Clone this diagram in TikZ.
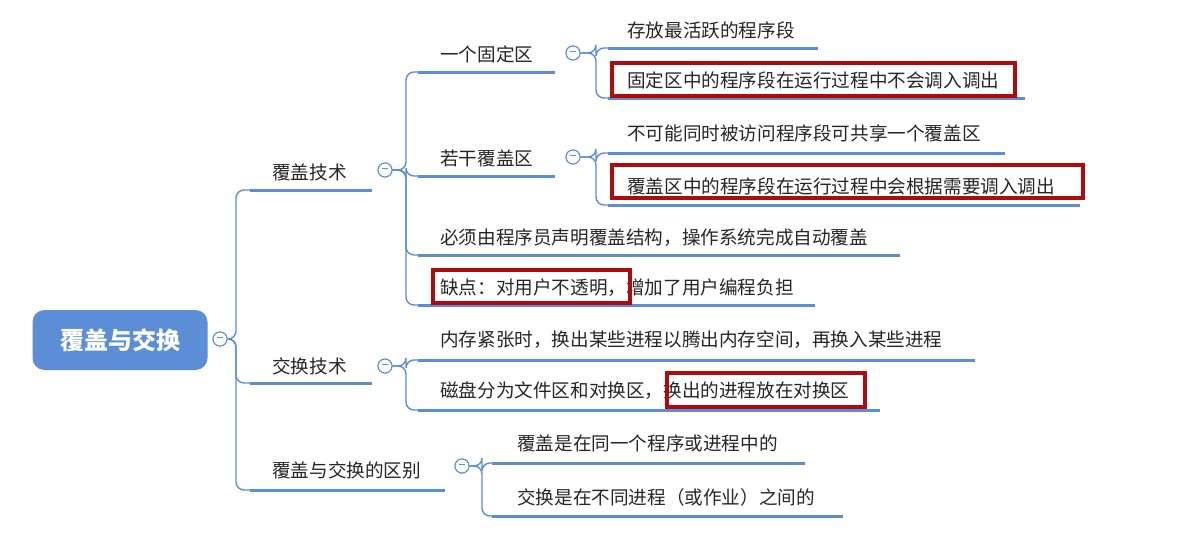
\documentclass[tikz,border=0pt]{standalone}
\usepackage{fontspec}
\setmainfont{Noto Sans CJK SC}
\newcommand\cminus{\textcolor{lineblue}{\rule[2.6pt]{6pt}{1.1pt}}}
\begin{document}
\begin{tikzpicture}[x=1pt,y=-1pt,
  conn/.style={draw=lineblue,line width=1.4pt,rounded corners=8pt},
  uline/.style={draw=lineblue,line width=3pt},
  txt/.style={anchor=west,inner sep=0pt,font=\fontsize{18.6}{22}\selectfont,text=black!85},
  redbox/.style={draw=boxred,line width=3.2pt},
  collapse/.style={circle,draw=lineblue,fill=white,line width=1pt,minimum size=14pt,inner sep=0pt}]
\definecolor{lineblue}{HTML}{5B8ED6}
\definecolor{boxred}{HTML}{B00A0A}
\useasboundingbox[fill=white] (0,0) rectangle (1186,544);
% root
\node[fill=lineblue,rounded corners=12pt,minimum width=175pt,minimum height=60pt,text=white,
  font=\fontsize{24}{28}\selectfont\bfseries] (root) at (120,340) {覆盖与交换};
\node[collapse] (c0) at (220,339) {\cminus};
% level 1
\node[txt] (t1) at (272,172) {覆盖技术};
\node[txt] (t2) at (272,366) {交换技术};
\node[txt] (t3) at (272,470) {覆盖与交换的区别};
\coordinate (u1s) at (250,190); \coordinate (u1e) at (372,190);
\coordinate (u2s) at (250,383); \coordinate (u2e) at (372,383);
\coordinate (u3s) at (250,490); \coordinate (u3e) at (445,490);
\node[collapse] (c1) at (385,170) {\cminus};
\node[collapse] (c2) at (385,366) {\cminus};
\node[collapse] (c3) at (462,466) {\cminus};
% level 2
\node[txt] (ta) at (440,54) {一个固定区};
\node[txt] (tb) at (440,158) {若干覆盖区};
\node[txt] (tc) at (440,238) {必须由程序员声明覆盖结构，操作系统完成自动覆盖};
\node[txt] (td) at (440,288) {缺点：对用户不透明，增加了用户编程负担};
\coordinate (uas) at (418,72); \coordinate (uae) at (555,72);
\coordinate (ubs) at (418,176); \coordinate (ube) at (555,176);
\coordinate (ucs) at (418,255); \coordinate (uce) at (900,255);
\coordinate (uds) at (418,305); \coordinate (ude) at (815,305);
\node[collapse] (ca) at (573,53) {\cminus};
\node[collapse] (cb) at (573,157) {\cminus};
\node[txt] (te1) at (440,340) {内存紧张时，换出某些进程以腾出内存空间，再换入某些进程};
\node[txt] (te2) at (440,391) {磁盘分为文件区和对换区，换出的进程放在对换区};
\coordinate (ue1s) at (418,360); \coordinate (ue1e) at (975,360);
\coordinate (ue2s) at (418,410); \coordinate (ue2e) at (880,410);
\node[txt] (tf1) at (517,443) {覆盖是在同一个程序或进程中的};
\node[txt] (tf2) at (517,497) {交换是在不同进程（或作业）之间的};
\coordinate (uf1s) at (492,463); \coordinate (uf1e) at (805,463);
\coordinate (uf2s) at (492,516); \coordinate (uf2e) at (843,516);
% level 3
\node[txt] (ta1) at (627,30) {存放最活跃的程序段};
\node[txt] (ta2) at (627,80) {固定区中的程序段在运行过程中不会调入调出};
\node[txt] (tb1) at (627,133) {不可能同时被访问程序段可共享一个覆盖区};
\node[txt] (tb2) at (627,186) {覆盖区中的程序段在运行过程中会根据需要调入调出};
\coordinate (ua1s) at (608,48); \coordinate (ua1e) at (818,48);
\coordinate (ua2s) at (608,98); \coordinate (ua2e) at (1025,98);
\coordinate (ub1s) at (608,153); \coordinate (ub1e) at (1005,153);
\coordinate (ub2s) at (608,205); \coordinate (ub2e) at (1080,205);
% underlines
\foreach \u in {u1,u2,u3,ua,ub,uc,ud,ue1,ue2,uf1,uf2,ua1,ua2,ub1,ub2}
  \draw[uline] (\u s) -- (\u e);
% connectors
\draw[conn] (c0.east) -- (236,339) |- (u1s);
\draw[conn] (c0.east) -- (236,339) |- (u2s);
\draw[conn] (c0.east) -- (236,339) |- (u3s);
\foreach \u in {ua,ub,uc,ud} \draw[conn] (c1.east) -- (406,170) |- (\u s);
\foreach \u in {ue1,ue2} \draw[conn] (c2.east) -- (406,366) |- (\u s);
\foreach \u in {uf1,uf2} \draw[conn] (c3.east) -- (482,466) |- (\u s);
\foreach \u in {ua1,ua2} \draw[conn] (ca.east) -- (596,53) |- (\u s);
\foreach \u in {ub1,ub2} \draw[conn] (cb.east) -- (596,157) |- (\u s);
\foreach \c in {c0,c1,c2,c3,ca,cb} \node[collapse] at (\c) {\cminus};
% red highlight boxes
\draw[redbox] (612,63) rectangle (1015,96);
\draw[redbox] (612,165) rectangle (1083,198);
\draw[redbox] (433,270) rectangle (630,303);
\draw[redbox] (667,373) rectangle (865,407);
\end{tikzpicture}
\end{document}
